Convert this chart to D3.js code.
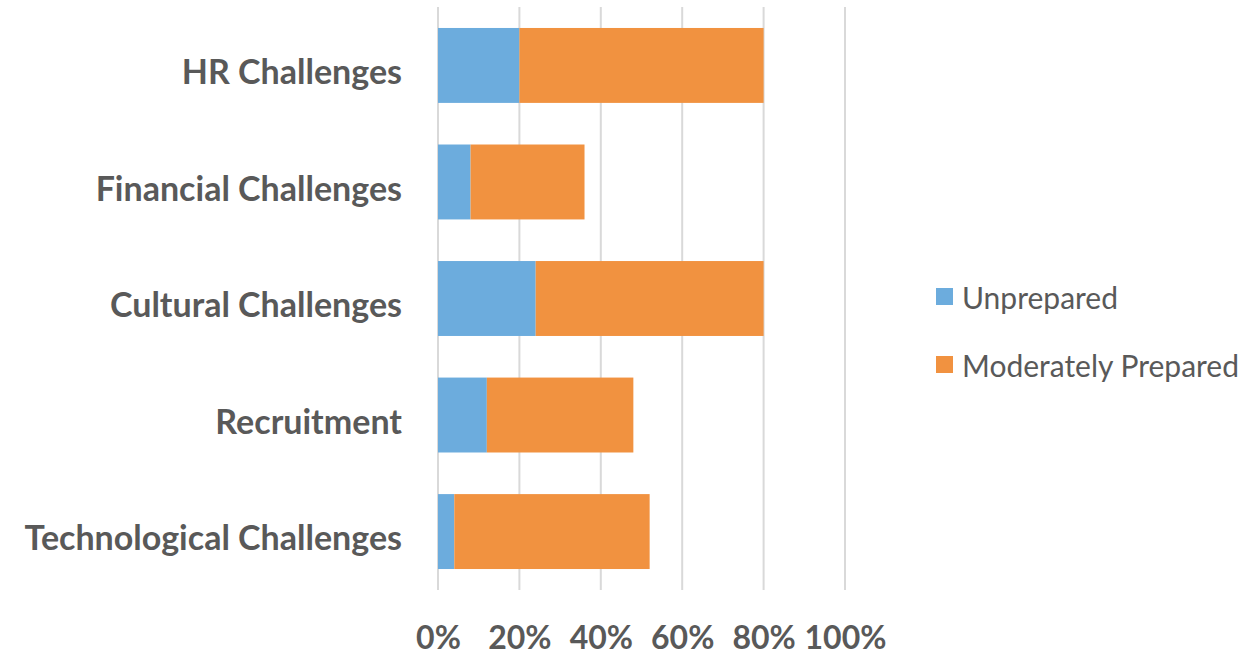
<!DOCTYPE html>
<html>
<head>
<meta charset="utf-8">
<script src="https://cdn.jsdelivr.net/npm/d3@7"></script>
<style>
  html, body { margin: 0; padding: 0; background: #fff; }
  svg text { font-family: Lato, "Open Sans", sans-serif; fill: #595959; }
</style>
</head>
<body>
<svg id="chart" width="1242" height="656"></svg>
<script>
// Share of respondents by preparedness level for each challenge area
const categories = ["HR Challenges", "Financial Challenges", "Cultural Challenges", "Recruitment", "Technological Challenges"];
const unprepared = [20, 8, 24, 12, 4];
const moderatelyPrepared = [60, 28, 56, 36, 48];
const seriesNames = ["Unprepared", "Moderately Prepared"];
const tickValues = [0, 20, 40, 60, 80, 100];

const colors = ["#6cacdd", "#f19240"];

const svg = d3.select("#chart");
const margin = { left: 438, right: 397, top: 7, bottom: 66 };
const width = 1242 - margin.left - margin.right;
const height = 656 - margin.top - margin.bottom;

const g = svg.append("g").attr("transform", `translate(${margin.left},${margin.top})`);

const x = d3.scaleLinear().domain([0, 100]).range([0, width]);
const y = d3.scaleBand().domain(categories).range([0, height]).paddingInner(0.357).paddingOuter(0.18);

// vertical gridlines
g.append("g")
  .selectAll("line")
  .data(tickValues)
  .join("line")
  .attr("x1", d => x(d)).attr("x2", d => x(d))
  .attr("y1", 0).attr("y2", height)
  .attr("stroke", "#d9d9d9")
  .attr("stroke-width", 2);

// stacked bars
const rows = categories.map((c, i) => ({ cat: c, Unprepared: unprepared[i], "Moderately Prepared": moderatelyPrepared[i] }));
const stacked = d3.stack().keys(seriesNames)(rows);

g.append("g")
  .selectAll("g")
  .data(stacked)
  .join("g")
  .attr("fill", (d, i) => colors[i])
  .selectAll("rect")
  .data(d => d)
  .join("rect")
  .attr("x", d => x(d[0]))
  .attr("width", d => x(d[1]) - x(d[0]))
  .attr("y", d => y(d.data.cat))
  .attr("height", y.bandwidth());

// x axis tick labels
const xAxis = d3.axisBottom(x).tickValues(tickValues).tickFormat(d => d + "%").tickSize(0).tickPadding(0);
const xg = g.append("g").attr("transform", `translate(0,${height})`).call(xAxis);
xg.select(".domain").remove();
xg.attr("font-family", null).attr("font-size", null);
xg.selectAll("text")
  .attr("dy", null)
  .attr("y", 59)
  .style("font-size", "32px")
  .style("font-weight", "bold")
  .attr("fill", "#595959");

// category labels
const yAxis = d3.axisLeft(y).tickSize(0).tickPadding(36);
const yg = g.append("g").call(yAxis);
yg.select(".domain").remove();
yg.attr("font-family", null).attr("font-size", null);
yg.selectAll("text")
  .attr("dy", "0.55em")
  .style("font-size", "34px")
  .style("font-weight", "bold")
  .attr("fill", "#595959");

// legend
const legend = svg.append("g").attr("transform", "translate(936,288)");
const items = legend.selectAll("g")
  .data(seriesNames)
  .join("g")
  .attr("transform", (d, i) => `translate(0,${i * 68})`);
items.append("rect")
  .attr("width", 17).attr("height", 17)
  .attr("fill", (d, i) => colors[i]);
items.append("text")
  .attr("x", 26).attr("y", 9)
  .attr("dominant-baseline", "central")
  .style("font-size", "30px")
  .text(d => d);
</script>
</body>
</html>
